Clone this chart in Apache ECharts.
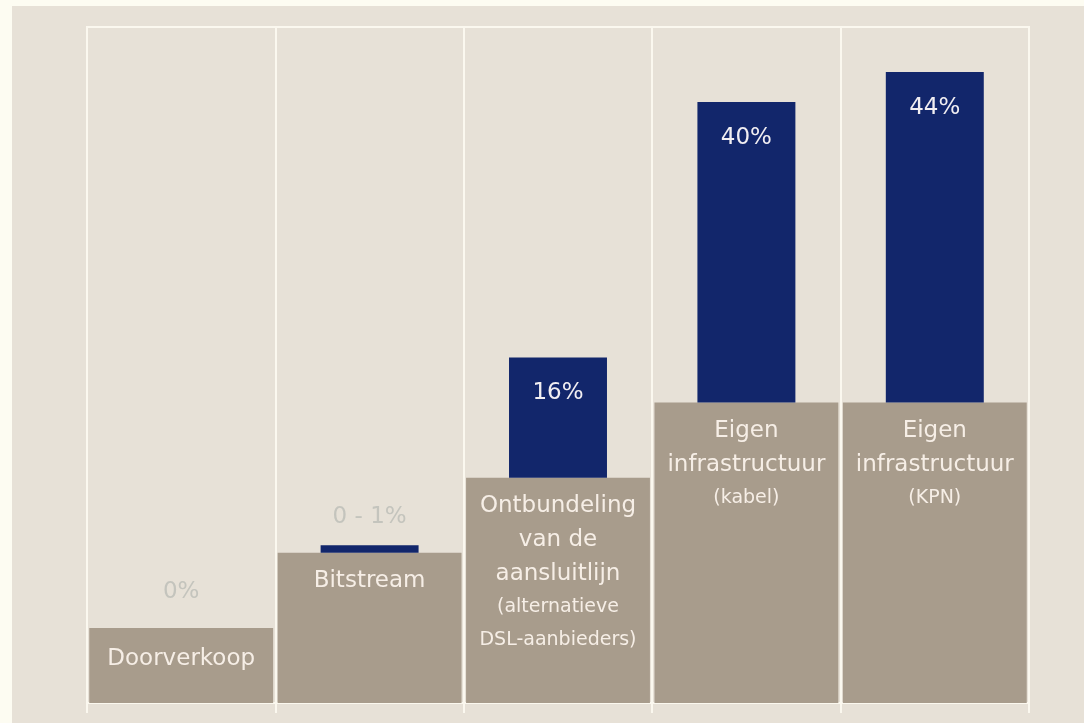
<!DOCTYPE html>
<html>
<head>
<meta charset="utf-8">
<script src="https://cdn.jsdelivr.net/npm/echarts@6/dist/echarts.min.js"></script>
<style>
html,body{margin:0;padding:0;background:#fdfcf2;width:1084px;height:723px;overflow:hidden;}
#chart{position:absolute;left:12px;top:6px;width:1072px;height:717px;}
</style>
</head>
<body>
<div id="chart"></div>
<script>
// Data
const categories = ['Doorverkoop', 'Bitstream', 'Ontbundeling van de aansluitlijn', 'Eigen infrastructuur (kabel)', 'Eigen infrastructuur (KPN)'];
const baseLevels = [10, 20, 30, 40, 40];
const shares = [0, 1, 16, 40, 44];
const shareLabels = ['0%', '0 - 1%', '16%', '40%', '44%'];
const mainLines = [['Doorverkoop'], ['Bitstream'], ['Ontbundeling', 'van de', 'aansluitlijn'], ['Eigen', 'infrastructuur'], ['Eigen', 'infrastructuur']];
const subLines = [[], [], ['(alternatieve', 'DSL-aanbieders)'], ['(kabel)'], ['(KPN)']];

const FONT = 'DejaVu Sans';
const LINE = '#fbf8ef';

const chart = echarts.init(document.getElementById('chart'));

const baseData = baseLevels.map((v, i) => ({ value: v, label: { distance: i === 0 ? 14 : 11 } }));
const shareData = shares.map((v, i) => {
  const small = v < 5;
  return {
    value: v,
    label: small ? {
      show: true, position: 'top', distance: i === 0 ? 24 : 17,
      color: '#c4c4bd', fontSize: 23, fontFamily: FONT,
      formatter: shareLabels[i]
    } : {
      show: true, position: 'insideTop', distance: 24,
      color: '#f1eef2', fontSize: 23, fontFamily: FONT,
      formatter: shareLabels[i]
    }
  };
});

chart.setOption({
  backgroundColor: '#e7e1d7',
  animation: false,
  grid: { left: 75, right: 55, top: 21, bottom: 20, show: true, borderColor: LINE, borderWidth: 2, backgroundColor: 'transparent' },
  xAxis: [
    {
      type: 'category', data: categories,
      axisLine: { show: true, lineStyle: { color: LINE, width: 2 } },
      axisTick: { show: true, interval: 0, length: 10, lineStyle: { color: LINE, width: 2 } },
      axisLabel: { show: false },
      splitLine: { show: true, interval: 0, lineStyle: { color: LINE, width: 2 } }
    },
    { type: 'category', data: categories, show: false }
  ],
  yAxis: { type: 'value', min: 0, max: 90, show: false, splitLine: { show: false } },
  series: [
    {
      type: 'bar', xAxisIndex: 0, data: baseData, barWidth: '97.6%',
      itemStyle: { color: '#a89c8c' },
      label: {
        show: true, position: 'insideTop', distance: 11,
        fontFamily: FONT, color: '#f6eee6',
        formatter: (p) => {
          const i = p.dataIndex;
          const parts = mainLines[i].map(t => '{m|' + t + '}').concat(subLines[i].map(t => '{s|' + t + '}'));
          return parts.join('\n');
        },
        rich: {
          m: { fontSize: 23, lineHeight: 34, fontFamily: FONT, color: '#f6eee6' },
          s: { fontSize: 19, lineHeight: 33, fontFamily: FONT, color: '#f6eee6' }
        }
      },
      z: 2
    },
    {
      type: 'bar', xAxisIndex: 1, stack: 'share', data: baseLevels, barWidth: '52%',
      itemStyle: { color: 'rgba(0,0,0,0)' }, silent: true, z: 3
    },
    {
      type: 'bar', xAxisIndex: 1, stack: 'share', data: shareData, barWidth: '52%',
      itemStyle: { color: '#12266b' }, z: 3
    }
  ]
});
</script>
</body>
</html>
